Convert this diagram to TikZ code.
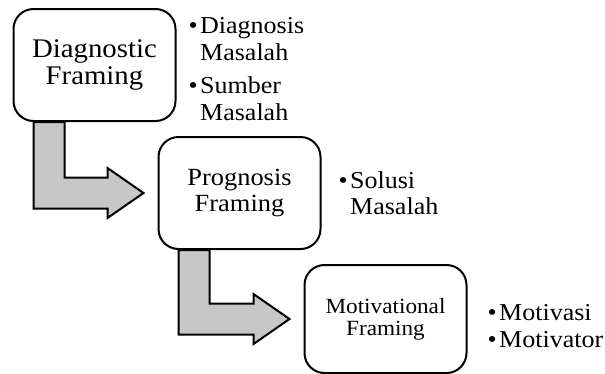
\documentclass[tikz,border=0pt]{standalone}
\usepackage{fontspec}
\setmainfont{Liberation Serif}[FakeStretch=1.07]
\usepackage{tikz}
\usetikzlibrary{calc, %for the bent arrows
                backgrounds,
                positioning}

\newcommand{\dotitem}{\makebox[11.5pt][l]{\textbullet}}
\newcommand{\dotgap}{\hspace*{11.5pt}}

\begin{document}
\begin{tikzpicture}[x=1pt, y=1pt,
                    Frame/.style={draw, line width=2pt, rounded corners=20pt, fill=white, minimum width=162pt, minimum height=112pt, align=center, inner sep=0pt},
                    Points/.style={anchor=west, inner sep=0pt, align=left, font=\fontsize{24.3}{26.6}\selectfont},
                    bentarrow/.style={draw, line width=2pt, fill=black!22, line join=miter}
                    ]

    \useasboundingbox (0,0) rectangle (605,-373);

    % BOXES %
    \node[Frame, font=\fontsize{26.9}{27}\selectfont] at (94.5,-65) (Diag) {Diagnostic\\Framing};
    \node[Frame, font=\fontsize{24.7}{25.7}\selectfont, below right=14pt and -19pt of Diag] (Prog) {Prognosis\\Framing};
    \node[Frame, font=\fontsize{21.7}{22}\selectfont, minimum height=108pt, below right=14pt and -18pt of Prog] (Moti) {Motivational\\Framing};

    % POINTS %
    \node[Points, right=12pt of Diag, yshift=-4pt] (DiagPts) {\dotitem Diagnosis\\\dotgap Masalah\\[7pt]\dotitem Sumber\\\dotgap Masalah};
    \node[Points, right=17pt of Prog] (ProgPts) {\dotitem Solusi\\\dotgap Masalah};
    \node[Points, right=20pt of Moti, yshift=-7pt] (MotiPts) {\dotitem Motivasi\\\dotitem Motivator};

    % ARROWS %
    \begin{scope}[on background layer]
    \foreach \a/\b in {Diag/Prog, Prog/Moti}
    \draw[bentarrow] let \p1 = ($(\a.south west)+(21,0)$), \p2 = ($(\b.west)+(-14,0)$) in
        (\x1,\y1) -- (\x1+31pt,\y1) -- (\x1+31pt,\y2+15.5pt) -- (\x2-36pt,\y2+15.5pt)
        -- (\x2-36pt,\y2+25pt) -- (\x2,\y2) -- (\x2-36pt,\y2-25pt)
        -- (\x2-36pt,\y2-15.5pt) -- (\x1,\y2-15.5pt) -- cycle;
    \end{scope}
\end{tikzpicture}
\end{document}
